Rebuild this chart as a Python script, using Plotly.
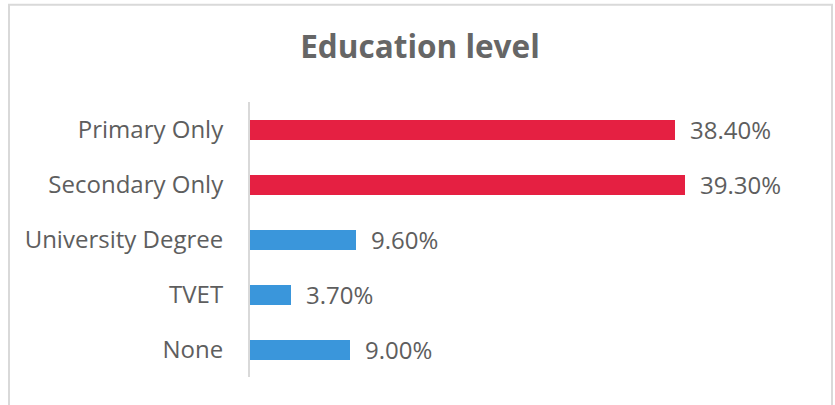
import plotly.graph_objects as go

categories = ["Primary Only", "Secondary Only", "University Degree", "TVET", "None"]
values = [38.40, 39.30, 9.60, 3.70, 9.00]
bar_colors = ["#E52042", "#E52042", "#3A96DB", "#3A96DB", "#3A96DB"]
title_text = "Education level"

W, H = 835, 405
ML, MR, MT, MB = 250, 33, 101.5, 27.5
plot_w = W - ML - MR
plot_h = H - MT - MB

def px_x(p):
    return (p - ML) / plot_w

def px_y(p):
    return (H - MB - p) / plot_h

fig = go.Figure()
fig.add_trace(go.Bar(
    y=categories,
    x=values,
    orientation="h",
    marker=dict(color=bar_colors, line=dict(width=0)),
    width=20 / 55,
    hoverinfo="skip",
))

for c, v in zip(categories, values):
    fig.add_annotation(
        x=v, y=c, xref="x", yref="y",
        text=f"{v:.2f}%",
        showarrow=False, xanchor="left", yanchor="middle",
        xshift=13,
        font=dict(family="Open Sans", size=24, color="#5E5E5E"),
    )

fig.add_shape(
    type="rect", xref="paper", yref="paper",
    x0=px_x(9), x1=px_x(832), y0=px_y(430), y1=px_y(4),
    line=dict(color="#D9D9D9", width=2), fillcolor="rgba(0,0,0,0)",
    layer="below",
)

fig.update_layout(
    width=W, height=H,
    margin=dict(l=ML, r=MR, t=MT, b=MB, pad=0),
    paper_bgcolor="white", plot_bgcolor="white",
    showlegend=False,
    bargap=0,
    font=dict(family="Open Sans", color="#5E5E5E"),
    title=dict(
        text=f"<b>{title_text}</b>",
        x=420 / W, xref="container", xanchor="center",
        y=1 - 46.5 / H, yref="container", yanchor="middle",
        font=dict(family="Open Sans", size=31.5, color="#666666"),
    ),
    xaxis=dict(
        range=[0, plot_w / 11.07],
        visible=False, showgrid=False, zeroline=False, fixedrange=True,
    ),
    yaxis=dict(
        categoryorder="array", categoryarray=categories[::-1],
        showline=True, linecolor="#D9D9D9", linewidth=2,
        showgrid=False, zeroline=False,
        ticks="", ticklabelstandoff=20,
        tickfont=dict(family="Open Sans", size=24, color="#5E5E5E"),
        fixedrange=True,
    ),
)

fig.write_html(
    "out.html",
    config={"displayModeBar": False},
    post_script="document.body.style.margin='0';document.body.style.overflow='hidden';",
)
